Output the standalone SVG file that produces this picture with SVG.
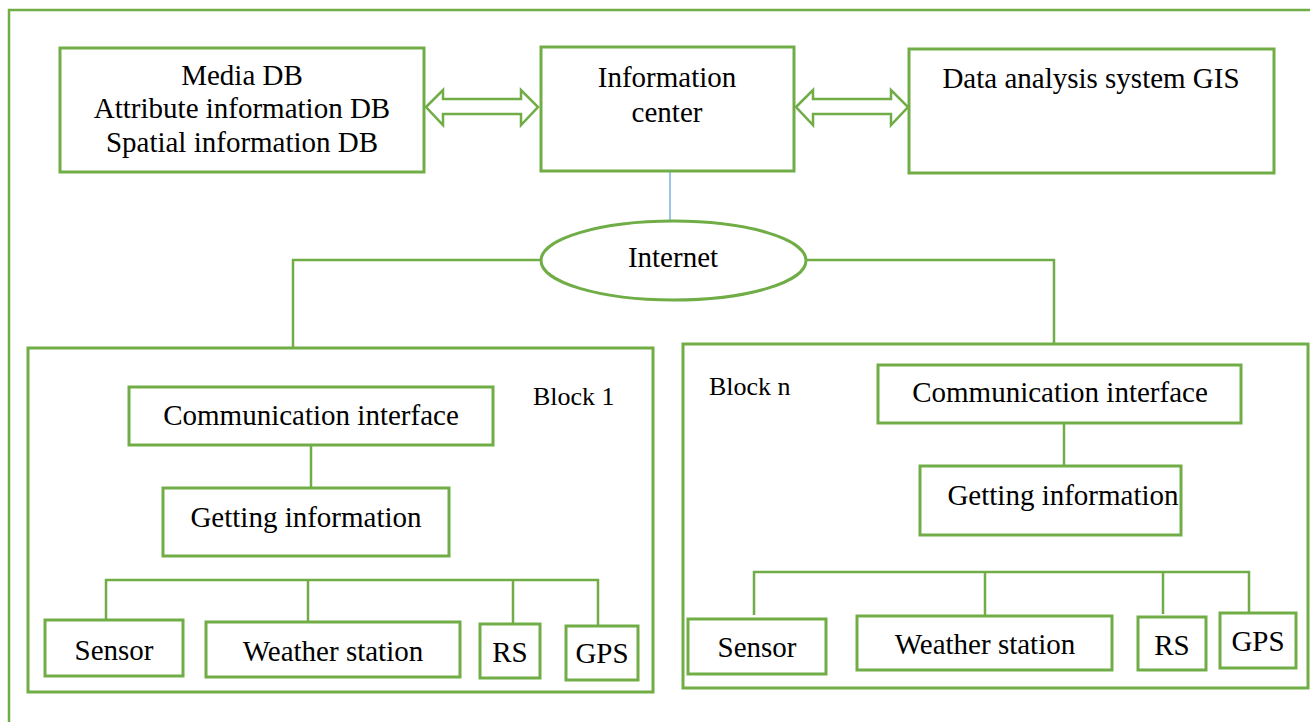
<svg xmlns="http://www.w3.org/2000/svg" width="1310" height="722" viewBox="0 0 1310 722">
<style>
.b{fill:#fff;stroke:#70AD47;stroke-width:3}
.k{fill:none;stroke:#70AD47;stroke-width:3}
.l{fill:none;stroke:#70AD47;stroke-width:2.5}
text{font-family:'Liberation Serif','Times New Roman',serif;fill:#000}
.t{font-size:29px;text-anchor:middle}
.s{font-size:26px}
.ar{fill:#fff;stroke:#70AD47;stroke-width:2.5;stroke-linejoin:miter}
</style>
<rect width="1310" height="722" fill="#fff"/>
<g id="frame"><path class="l" d="M9,722 V10 H1310"/></g>
<g id="block1"><rect class="k" x="28" y="348" width="625" height="344"/>
<text class="s" x="533" y="405">Block 1</text></g>
<g id="blockn"><rect class="k" x="683" y="344" width="625" height="344"/>
<text class="s" x="709" y="395">Block n</text></g>
<g id="connectors">
<path class="ar" d="M426,107 L443,90 V99 H521 V90 L538,107 L521,125 V114 H443 V125 Z"/>
<path class="ar" d="M796,107 L813,90 V99 H891 V90 L908,107 L891,125 V114 H813 V125 Z"/>
<line x1="670" y1="171" x2="670" y2="221" stroke="#5B9BD5" stroke-width="1.2"/>
<path class="l" d="M541,260 H293 V348"/>
<path class="l" d="M806,260 H1054 V344"/>
<path class="l" d="M311,445 V488"/>
<path class="l" d="M106,620 V580 H598 V626 M308,580 V622 M513,580 V624"/>
<path class="l" d="M1064,423 V466"/>
<path class="l" d="M754,615 V572 H1249 V612 M985,572 V617 M1163,572 V614"/>
</g>
<g id="mediadb"><rect class="b" x="60" y="48" width="364" height="124"/>
<text class="t" x="242" y="85">Media DB</text><text class="t" x="242" y="118">Attribute information DB</text><text class="t" x="242" y="152">Spatial information DB</text></g>
<g id="infocenter"><rect class="b" x="541" y="47" width="253" height="124"/>
<text class="t" x="667" y="87">Information</text><text class="t" x="667" y="122">center</text></g>
<g id="gis"><rect class="b" x="909" y="49" width="365" height="124"/>
<text class="t" x="1091" y="88">Data analysis system GIS</text></g>
<g id="internet"><ellipse class="b" cx="673.5" cy="260.5" rx="132.5" ry="39.5"/>
<text class="t" x="673" y="267">Internet</text></g>
<g id="b1comm"><rect class="b" x="129" y="387" width="364" height="58"/><text class="t" x="311" y="425">Communication interface</text></g>
<g id="b1get"><rect class="b" x="163" y="488" width="286" height="68"/><text class="t" x="306" y="527">Getting information</text></g>
<g id="b1sensor"><rect class="b" x="45" y="620" width="138" height="56"/><text class="t" x="114" y="660">Sensor</text></g>
<g id="b1weather"><rect class="b" x="206" y="622" width="254" height="55"/><text class="t" x="333" y="661">Weather station</text></g>
<g id="b1rs"><rect class="b" x="480" y="624" width="60" height="54"/><text class="t" x="510" y="662">RS</text></g>
<g id="b1gps"><rect class="b" x="566" y="626" width="72" height="54"/><text class="t" x="602" y="663">GPS</text></g>
<g id="bncomm"><rect class="b" x="878" y="365" width="363" height="58"/><text class="t" x="1060" y="402">Communication interface</text></g>
<g id="bnget"><rect class="b" x="920" y="466" width="261" height="69"/><text class="t" x="1063" y="505">Getting information</text></g>
<g id="bnsensor"><rect class="b" x="688" y="619" width="138" height="55"/><text class="t" x="757" y="657">Sensor</text></g>
<g id="bnweather"><rect class="b" x="857" y="616" width="255" height="54"/><text class="t" x="985" y="654">Weather station</text></g>
<g id="bnrs"><rect class="b" x="1138" y="617" width="68" height="53"/><text class="t" x="1172" y="655">RS</text></g>
<g id="bngps"><rect class="b" x="1220" y="613" width="76" height="55"/><text class="t" x="1258" y="651">GPS</text></g>
</svg>
